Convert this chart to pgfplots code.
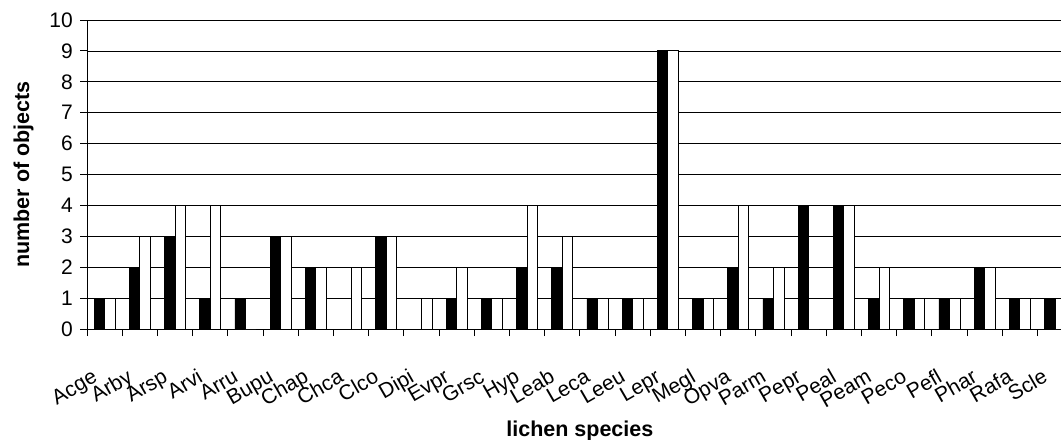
\documentclass[border=0pt]{standalone}
\usepackage{fontspec}
\setmainfont{Liberation Sans}
\usepackage{pgfplots}
\pgfplotsset{compat=1.18}
\begin{document}
\begin{tikzpicture}
\begin{axis}[
  name=ax,
  at={(0,0)}, anchor=south west,
  scale only axis,
  width=974pt, height=309pt,
  xmin=-0.5, xmax=27.17,
  ymin=0, ymax=10,
  ytick={0,1,...,10},
  minor ytick={0,1,...,10},
  xtick={0,1,...,27},
  minor xtick={-0.5,0.5,...,26.5},
  xticklabels={Acge,Arby,Arsp,Arvi,Arru,Bupu,Chap,Chca,Clco,Dipi,Evpr,Grsc,Hyp,Leab,Leca,Leeu,Lepr,Megl,Opva,Parm,Pepr,Peal,Peam,Peco,Pefl,Phar,Rafa,Scle},
  tick align=outside,
  major tick length=0pt,
  minor tick length=7pt,
  axis x line*=bottom,
  axis y line*=left,
  axis line style={-, black, line width=0.8pt},
  tick style={black, line width=0.8pt},
  ymajorgrids,
  grid style={black, line width=0.7pt},
  /pgf/number format/assume math mode=true,
  yticklabel style={font=\fontsize{21}{25}\selectfont, anchor=east, inner sep=0pt, xshift=-14pt},
  xticklabel style={font=\fontsize{21}{25}\selectfont, inner sep=0pt, xshift=-6pt, yshift=-52pt, rotate=30, anchor=base east},
  xlabel={lichen species},
  ylabel={number of objects},
  xlabel style={font=\bfseries\fontsize{21.5}{25}\selectfont, at={(axis description cs:0.506,0)}, anchor=base, yshift=-107pt},
  ylabel style={font=\bfseries\fontsize{21.5}{25}\selectfont, at={(axis description cs:-0.0650,0.5)}, anchor=center},
  ybar=0pt,
  bar width=10.5pt,
  clip=true,
]
\addplot[draw=black, fill=black, line width=0.8pt] coordinates {
(0,1) (1,2) (2,3) (3,1) (4,1) (5,3) (6,2) (7,0) (8,3) (9,0) (10,1) (11,1) (12,2) (13,2)
(14,1) (15,1) (16,9) (17,1) (18,2) (19,1) (20,4) (21,4) (22,1) (23,1) (24,1) (25,2) (26,1) (27,1)};
\addplot[draw=black, fill=white, line width=0.8pt] coordinates {
(0,1) (1,3) (2,4) (3,4) (4,0) (5,3) (6,2) (7,2) (8,3) (9,1) (10,2) (11,1) (12,4) (13,3)
(14,1) (15,1) (16,9) (17,1) (18,4) (19,2) (20,0) (21,4) (22,2) (23,1) (24,1) (25,2) (26,1) (27,0)};
\end{axis}
\pgfresetboundingbox
\useasboundingbox ([xshift=-87pt,yshift=-110pt]ax.south west) rectangle ([yshift=20pt]ax.north east);
\end{tikzpicture}
\end{document}
